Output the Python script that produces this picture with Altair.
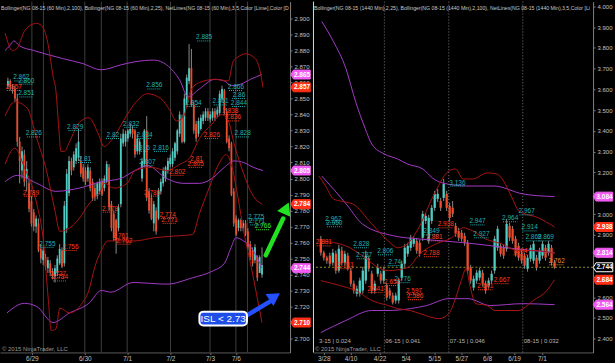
import altair as alt
import pandas as pd

FONT = "Liberation Sans"
UP = "#4ecdc4"
DOWN = "#ee4b2b"
WICK = "#8a8a8a"
BAND_RED = "#a81414"
BAND_PURPLE = "#a23ac6"
LBL_TEAL = "#20b2b2"
LBL_RED = "#ff3b1f"
LBL_GREEN = "#33ee33"
LBL_ORANGE = "#e08a20"
TAG_PINK = "#f25cf2"
TAG_RED = "#ff3016"
AXIS_TXT = "#c0c0c0"

# ---------------- LEFT PANEL : NG 08-15 (60 Min) ----------------
L_open = [2.858, 2.861, 2.857, 2.856, 2.850, 2.823, 2.805, 2.815, 2.800, 2.797,
          2.786, 2.779, 2.770, 2.772, 2.756, 2.749, 2.751, 2.744, 2.747, 2.742,
          2.739, 2.741, 2.747, 2.755, 2.747, 2.769, 2.791, 2.811, 2.807, 2.811,
          2.813, 2.811, 2.807, 2.805, 2.800, 2.805, 2.798, 2.794, 2.789, 2.792,
          2.798, 2.794, 2.798, 2.807, 2.784, 2.778, 2.774, 2.769, 2.784, 2.822,
          2.823, 2.825, 2.828, 2.831, 2.830, 2.817, 2.817, 2.800, 2.809, 2.830,
          2.792, 2.788, 2.772, 2.780, 2.775, 2.792, 2.797, 2.800, 2.805, 2.809,
          2.809, 2.813, 2.817, 2.828, 2.838, 2.823, 2.846, 2.861, 2.869, 2.846,
          2.834, 2.828, 2.831, 2.836, 2.838, 2.842, 2.837, 2.838, 2.842, 2.840,
          2.841, 2.850, 2.855, 2.842, 2.825, 2.822, 2.792, 2.775, 2.769, 2.774,
          2.769, 2.772, 2.767, 2.759, 2.755, 2.749, 2.751, 2.741, 2.740]
L_close = [2.861, 2.857, 2.856, 2.850, 2.823, 2.811, 2.817, 2.798, 2.806, 2.781,
           2.772, 2.770, 2.775, 2.755, 2.750, 2.755, 2.745, 2.749, 2.741, 2.739,
           2.744, 2.750, 2.756, 2.745, 2.783, 2.803, 2.811, 2.805, 2.815, 2.819,
           2.823, 2.803, 2.800, 2.798, 2.807, 2.794, 2.788, 2.788, 2.797, 2.798,
           2.790, 2.800, 2.809, 2.782, 2.769, 2.763, 2.761, 2.782, 2.825, 2.828,
           2.828, 2.830, 2.831, 2.828, 2.815, 2.825, 2.823, 2.811, 2.830, 2.788,
           2.780, 2.775, 2.784, 2.767, 2.792, 2.798, 2.805, 2.807, 2.811, 2.813,
           2.817, 2.822, 2.830, 2.840, 2.823, 2.850, 2.863, 2.869, 2.846, 2.830,
           2.825, 2.836, 2.838, 2.840, 2.842, 2.838, 2.840, 2.842, 2.838, 2.843,
           2.853, 2.856, 2.842, 2.823, 2.819, 2.790, 2.772, 2.765, 2.774, 2.769,
           2.772, 2.765, 2.757, 2.751, 2.747, 2.757, 2.738, 2.751, 2.746]
L_high = [2.863, 2.862, 2.859, 2.858, 2.853, 2.826, 2.820, 2.818, 2.811, 2.800,
          2.789, 2.781, 2.777, 2.775, 2.759, 2.757, 2.753, 2.751, 2.749, 2.744,
          2.746, 2.752, 2.759, 2.757, 2.786, 2.806, 2.814, 2.813, 2.817, 2.822,
          2.831, 2.814, 2.809, 2.807, 2.809, 2.807, 2.800, 2.797, 2.798, 2.800,
          2.800, 2.802, 2.811, 2.809, 2.786, 2.780, 2.775, 2.784, 2.828, 2.831,
          2.830, 2.831, 2.834, 2.833, 2.831, 2.828, 2.825, 2.813, 2.831, 2.839,
          2.794, 2.790, 2.786, 2.782, 2.794, 2.800, 2.807, 2.808, 2.813, 2.815,
          2.819, 2.823, 2.831, 2.842, 2.840, 2.853, 2.865, 2.884, 2.881, 2.848,
          2.836, 2.838, 2.840, 2.842, 2.844, 2.844, 2.842, 2.844, 2.844, 2.845,
          2.855, 2.858, 2.856, 2.844, 2.827, 2.823, 2.794, 2.777, 2.775, 2.775,
          2.774, 2.774, 2.769, 2.761, 2.757, 2.759, 2.752, 2.752, 2.757]
L_low = [2.856, 2.855, 2.853, 2.848, 2.820, 2.797, 2.800, 2.795, 2.792, 2.779,
         2.770, 2.767, 2.766, 2.754, 2.747, 2.746, 2.743, 2.741, 2.739, 2.737,
         2.735, 2.739, 2.746, 2.744, 2.745, 2.766, 2.789, 2.802, 2.805, 2.809,
         2.811, 2.801, 2.798, 2.796, 2.798, 2.792, 2.786, 2.786, 2.787, 2.790,
         2.789, 2.792, 2.797, 2.780, 2.767, 2.761, 2.753, 2.767, 2.782, 2.820,
         2.820, 2.823, 2.826, 2.825, 2.813, 2.815, 2.815, 2.798, 2.807, 2.786,
         2.778, 2.774, 2.767, 2.765, 2.774, 2.790, 2.795, 2.798, 2.803, 2.807,
         2.807, 2.811, 2.815, 2.826, 2.822, 2.822, 2.845, 2.859, 2.845, 2.828,
         2.823, 2.826, 2.830, 2.834, 2.836, 2.836, 2.835, 2.836, 2.836, 2.838,
         2.839, 2.848, 2.840, 2.822, 2.817, 2.789, 2.770, 2.764, 2.767, 2.767,
         2.767, 2.764, 2.755, 2.749, 2.745, 2.747, 2.736, 2.741, 2.738]

# Bollinger bands (bar index, price)
L_ru_i = [-1.2, 2.0, 3.7, 7.0, 9.8, 12.3, 15.1, 17.2, 19.2, 20.4, 21.7, 22.5, 24.1, 26.2, 30.3, 34.4,
          38.4, 40.9, 45.0, 50.7, 54.0, 59.3, 65.0, 69.1, 71.6, 74.4, 77.7, 81.4, 87.9, 93.7, 95.7,
          97.8, 101.0, 105.1, 107.2, 108.4]
L_ru_p = [2.891, 2.880, 2.881, 2.892, 2.896, 2.897, 2.894, 2.883, 2.864, 2.855, 2.830, 2.817, 2.817,
          2.823, 2.835, 2.838, 2.828, 2.820, 2.826, 2.840, 2.847, 2.853, 2.850, 2.842, 2.836, 2.838,
          2.855, 2.860, 2.862, 2.861, 2.873, 2.876, 2.878, 2.875, 2.867, 2.857]
L_rm_i = [-1.2, 2.9, 8.2, 12.3, 16.4, 20.0, 22.1, 26.2, 30.3, 34.4, 36.8, 39.7, 40.9, 45.0, 50.7,
          54.0, 60.9, 67.5, 73.2, 77.3, 81.4, 86.7, 90.8, 93.7, 96.1, 100.2, 104.3, 108.0]
L_rm_p = [2.839, 2.848, 2.844, 2.825, 2.805, 2.780, 2.767, 2.769, 2.775, 2.784, 2.788, 2.793, 2.797,
          2.794, 2.797, 2.805, 2.807, 2.805, 2.809, 2.813, 2.825, 2.834, 2.840, 2.836, 2.822, 2.803,
          2.789, 2.784]
L_rl_i = [-1.2, 2.9, 7.0, 12.3, 15.1, 17.2, 18.4, 20.4, 22.1, 26.2, 31.5, 34.4, 36.8, 39.7, 42.5,
          45.0, 54.0, 62.2, 70.3, 78.5, 81.4, 85.5, 89.6, 92.8, 94.9, 97.8, 100.2, 103.1, 105.9, 108.0]
L_rl_p = [2.809, 2.819, 2.807, 2.784, 2.761, 2.724, 2.705, 2.706, 2.719, 2.716, 2.722, 2.730, 2.744,
          2.755, 2.761, 2.761, 2.761, 2.763, 2.764, 2.765, 2.778, 2.794, 2.809, 2.815, 2.809, 2.788,
          2.767, 2.747, 2.726, 2.710]
L_pu_i = [-1.2, 0.8, 2.5, 4.9, 11.0, 23.3, 31.5, 39.7, 47.9, 54.0, 62.2, 67.5, 73.2, 76.5, 81.4,
          87.9, 92.0, 94.9, 99.0, 103.1, 108.0]
L_pu_p = [2.880, 2.883, 2.886, 2.883, 2.880, 2.875, 2.872, 2.868, 2.871, 2.873, 2.874, 2.871, 2.861,
          2.851, 2.856, 2.862, 2.861, 2.858, 2.859, 2.862, 2.865]
L_pm_i = [-1.2, 4.1, 12.3, 20.4, 30.3, 39.7, 47.9, 54.0, 59.3, 67.5, 74.4, 81.4, 86.7, 92.0, 96.1,
          100.2, 104.3, 108.4]
L_pm_p = [2.798, 2.802, 2.797, 2.792, 2.794, 2.798, 2.800, 2.805, 2.808, 2.800, 2.797, 2.797, 2.800,
          2.807, 2.811, 2.810, 2.807, 2.805]
L_pl_i = [-0.4, 7.0, 12.3, 19.2, 26.2, 34.4, 39.7, 43.8, 53.2, 67.5, 78.5, 86.7, 92.0, 94.9, 96.9,
          100.2, 104.3, 108.0]
L_pl_p = [2.716, 2.722, 2.720, 2.710, 2.716, 2.722, 2.730, 2.729, 2.735, 2.734, 2.738, 2.742, 2.747,
          2.757, 2.763, 2.761, 2.755, 2.744]

# NetLines labels
L_lab_t = ["2.862", "2.860", "2.851", "2.826", "2.829", "2.81", "2.832", "2.82", "2.834", "2.816",
           "2.816", "2.807", "2.856", "2.885", "2.854", "2.851", "2.866", "2.86", "2.844", "2.828",
           "2.755", "2.775", "2.771", "2.766",
           "2.857", "2.789", "2.756", "2.737", "2.734", "2.778", "2.761", "2.762", "2.789", "2.774",
           "2.771", "2.802", "2.81", "2.805", "2.826", "2.838", "2.836"]
L_lab_i = [5.7, 7.8, 7.8, 11.0, 28.6, 32.7, 52.4, 44.6, 58.1, 56.9,
           65.0, 59.3, 62.2, 83.4, 78.9, 90.4, 96.9, 98.2, 98.2, 99.8,
           16.8, 105.5, 105.9, 108.4,
           2.5, 9.8, 26.6, 21.3, 22.1, 43.4, 47.9, 49.5, 61.3, 67.9,
           68.7, 72.0, 80.2, 79.8, 86.7, 94.5, 95.7]
L_lab_p = [2.861, 2.859, 2.851, 2.826, 2.830, 2.810, 2.832, 2.825, 2.825, 2.817,
           2.817, 2.808, 2.856, 2.886, 2.845, 2.846, 2.855, 2.850, 2.845, 2.826,
           2.757, 2.774, 2.771, 2.768,
           2.855, 2.789, 2.755, 2.738, 2.736, 2.779, 2.762, 2.759, 2.789, 2.775,
           2.772, 2.802, 2.810, 2.807, 2.825, 2.840, 2.836]
L_lab_c = [LBL_TEAL] * 23 + [LBL_GREEN] + [LBL_RED] * 17

L_tag_p = [2.865, 2.857, 2.805, 2.784, 2.744, 2.710]
L_tag_fill = [TAG_PINK, TAG_RED, TAG_PINK, TAG_RED, TAG_PINK, TAG_RED]
L_tag_stroke = L_tag_fill

L_yticks = [round(2.70 + 0.01 * k, 3) for k in range(21)]
L_date_i = [10.2, 32.7, 50.7, 69.1, 85.9, 96.9]
L_date_t = ["6/29", "6/30", "7/1", "7/2", "7/3", "7/6"]
L_grid_i = [10.2, 15.1, 32.7, 39.7, 50.7, 69.1, 85.9, 96.9, 101.8]

L_header = ("Bollinger(NG 08-15 (60 Min),2,100), Bollinger(NG 08-15 (60 Min),2,25), "
            "NetLines(NG 08-15 (60 Min),3,5,Color [Lime],Color [D")

# ---------------- RIGHT PANEL : NG 08-15 (1440 Min) ----------------
R_open = [2.881, 2.814, 2.790, 2.800, 2.766, 2.809, 2.728, 2.824, 2.766, 2.800,
          2.728, 2.665, 2.617, 2.617, 2.632, 2.680, 2.785, 2.713, 2.632, 2.713,
          2.713, 2.680, 2.656, 2.632, 2.608, 2.584, 2.584, 2.694, 2.761, 2.809,
          2.838, 2.857, 2.871, 2.862, 2.886, 2.967, 2.871, 2.967, 3.030, 3.073,
          3.063, 3.078, 3.097, 3.039, 3.030, 2.943, 2.919, 2.910, 2.895, 2.862,
          2.742, 2.646, 2.680, 2.694, 2.718, 2.665, 2.656, 2.680, 2.728, 2.838,
          2.847, 2.838, 2.833, 2.943, 2.929, 2.881, 2.847, 2.809, 2.800, 2.737,
          2.785, 2.776, 2.790, 2.776, 2.800, 2.838, 2.814, 2.838, 2.766]
R_close = [2.814, 2.790, 2.776, 2.761, 2.814, 2.728, 2.833, 2.766, 2.809, 2.737,
           2.665, 2.632, 2.641, 2.680, 2.728, 2.800, 2.737, 2.632, 2.665, 2.742,
           2.680, 2.728, 2.598, 2.608, 2.574, 2.608, 2.680, 2.761, 2.838, 2.847,
           2.886, 2.881, 2.824, 2.809, 3.001, 2.991, 2.982, 3.030, 3.097, 3.097,
           3.030, 3.145, 3.030, 2.982, 3.001, 2.905, 2.886, 2.881, 2.862, 2.728,
           2.680, 2.689, 2.718, 2.728, 2.665, 2.632, 2.680, 2.713, 2.881, 2.929,
           2.809, 2.800, 2.953, 2.886, 2.871, 2.809, 2.790, 2.776, 2.752, 2.790,
           2.838, 2.857, 2.742, 2.824, 2.857, 2.790, 2.857, 2.766, 2.744]
R_high = [2.895, 2.824, 2.800, 2.814, 2.833, 2.824, 2.852, 2.843, 2.824, 2.814,
          2.742, 2.680, 2.656, 2.694, 2.747, 2.824, 2.800, 2.728, 2.680, 2.761,
          2.728, 2.747, 2.670, 2.646, 2.622, 2.622, 2.694, 2.776, 2.857, 2.862,
          2.900, 2.895, 2.886, 2.876, 3.015, 3.006, 2.996, 3.044, 3.111, 3.121,
          3.078, 3.169, 3.111, 3.054, 3.063, 2.958, 2.934, 2.924, 2.910, 2.876,
          2.756, 2.704, 2.732, 2.742, 2.732, 2.680, 2.694, 2.728, 2.895, 2.943,
          2.862, 2.852, 2.977, 2.958, 2.943, 2.895, 2.862, 2.824, 2.814, 2.804,
          2.852, 2.871, 2.804, 2.838, 2.871, 2.852, 2.871, 2.852, 2.780]
R_low = [2.800, 2.776, 2.761, 2.747, 2.752, 2.713, 2.718, 2.752, 2.752, 2.728,
         2.651, 2.617, 2.603, 2.603, 2.617, 2.665, 2.723, 2.617, 2.617, 2.699,
         2.665, 2.665, 2.584, 2.593, 2.565, 2.569, 2.569, 2.680, 2.747, 2.795,
         2.823, 2.843, 2.809, 2.795, 2.871, 2.953, 2.857, 2.953, 3.015, 3.058,
         3.015, 3.063, 3.015, 2.967, 2.986, 2.891, 2.871, 2.867, 2.847, 2.713,
         2.665, 2.632, 2.665, 2.680, 2.651, 2.617, 2.641, 2.665, 2.713, 2.823,
         2.795, 2.785, 2.819, 2.871, 2.857, 2.795, 2.776, 2.761, 2.737, 2.723,
         2.771, 2.761, 2.728, 2.761, 2.785, 2.776, 2.800, 2.752, 2.737]

R_pu_i = [0.32, 4.17, 8.35, 11.56, 14.77, 17.0, 21.19, 25.68, 28.9, 34.03, 37.24, 40.45, 49.12,
          57.78, 67.4, 78.0]
R_pu_p = [3.927, 3.831, 3.701, 3.543, 3.413, 3.337, 3.289, 3.265, 3.241, 3.217, 3.174, 3.150, 3.135,
          3.135, 3.097, 3.084]
R_pm_i = [0.32, 4.17, 8.99, 13.8, 24.4, 32.1, 40.45, 51.36, 61.96, 78.0]
R_pm_p = [3.183, 3.121, 3.039, 2.953, 2.895, 2.881, 2.871, 2.857, 2.838, 2.814]
R_pl_i = [0.0, 8.35, 17.0, 22.47, 29.86, 35.31, 42.7, 49.12, 56.5, 67.4, 78.0]
R_pl_p = [2.430, 2.488, 2.536, 2.536, 2.545, 2.560, 2.593, 2.593, 2.560, 2.569, 2.564]
R_ru_i = [-0.64, 1.6, 4.17, 6.42, 10.6, 17.0, 22.47, 25.68, 28.9, 32.1, 37.24, 42.7, 44.94, 47.51,
          50.72, 55.54, 58.75, 61.0, 63.56, 66.13, 72.55, 78.0]
R_ru_p = [3.183, 3.135, 3.073, 3.063, 3.049, 2.953, 2.871, 2.838, 2.857, 2.919, 3.078, 3.207, 3.217,
          3.169, 3.169, 3.198, 3.193, 3.159, 3.087, 3.015, 2.982, 2.938]
R_rm_i = [0.0, 8.35, 14.77, 19.26, 22.47, 28.9, 33.07, 38.52, 43.66, 47.51, 50.72, 54.9, 60.35, 65.8,
          71.6, 78.0]
R_rm_p = [2.871, 2.847, 2.790, 2.742, 2.728, 2.742, 2.809, 2.857, 2.886, 2.934, 2.919, 2.881, 2.857,
          2.824, 2.824, 2.811]
R_rl_i = [0.0, 6.42, 11.56, 17.0, 22.47, 25.68, 29.86, 33.07, 39.49, 42.7, 44.94, 46.87, 48.48,
          49.76, 51.69, 55.54, 58.1, 65.8, 70.9, 75.44, 78.0]
R_rl_p = [2.680, 2.656, 2.632, 2.584, 2.560, 2.545, 2.536, 2.521, 2.497, 2.521, 2.593, 2.680, 2.737,
          2.656, 2.569, 2.560, 2.536, 2.536, 2.584, 2.632, 2.684]

R_lab_t = ["2.962", "2.950", "2.828", "2.737", "2.806", "2.74", "2.776", "2.849", "3.136", "2.947",
           "2.927", "2.964", "2.967", "2.914", "2.869", "2.869",
           "2.881", "2.731", "2.641", "2.652", "2.597", "2.586", "2.938", "2.881", "2.788", "2.667",
           "2.641", "2.84", "2.762"]
R_lab_i = [4.2, 4.5, 13.5, 14.4, 21.5, 24.7, 27.3, 36.9, 45.6, 52.3,
           53.6, 63.2, 68.7, 69.7, 71.0, 75.1,
           1.0, 8.3, 18.3, 23.8, 31.1, 31.5, 41.7, 37.9, 36.9, 60.4,
           54.9, 66.8, 78.7]
R_lab_p = [2.958, 2.939, 2.838, 2.785, 2.804, 2.752, 2.670, 2.900, 3.135, 2.948,
           2.886, 2.963, 2.996, 2.919, 2.871, 2.871,
           2.847, 2.737, 2.622, 2.656, 2.612, 2.588, 2.934, 2.871, 2.795, 2.665,
           2.636, 2.804, 2.756]
R_lab_c = [LBL_TEAL] * 16 + [LBL_RED] * 12 + [LBL_ORANGE]

R_tag_p = [3.084, 2.938, 2.814, 2.744, 2.684, 2.564]
R_tag_fill = [TAG_PINK, TAG_RED, TAG_PINK, "#000000", TAG_RED, TAG_PINK]
R_tag_stroke = [TAG_PINK, TAG_RED, TAG_PINK, "#ffffff", TAG_RED, TAG_PINK]

R_yticks = [round(2.4 + 0.1 * k, 1) for k in range(17)]
R_date_i = [0.96, 9.95, 19.6, 28.3, 37.9, 46.9, 55.5, 64.5, 73.8]
R_date_t = ["3/28", "4/10", "4/22", "5/4", "5/15", "5/27", "6/8", "6/19", "7/1"]
R_roll_i = [21.2, 42.7, 67.4]
R_roll_text_i = [-0.96, 21.2, 42.7, 67.4]
R_roll_text = ["3-15 | 0.024", "06-15 | 0.041", "07-15 | 0.046", "08-15 | 0.032"]
R_last = [2.744]

R_header = ("Bollinger(NG 08-15 (1440 Min),2,25), Bollinger(NG 08-15 (1440 Min),2,100), "
            "NetLines(NG 08-15 (1440 Min),3,5,Color [Li")

COPYRIGHT = "\u00a9 2015 NinjaTrader, LLC"

TAG_SHAPE = "M-1,0L-0.72,-0.46L1,-0.46L1,0.46L-0.72,0.46Z"
BAND_COLOR = {"pu": BAND_PURPLE, "pm": BAND_PURPLE, "pl": BAND_PURPLE,
              "ru": BAND_RED, "rm": BAND_RED, "rl": BAND_RED}


def build_panel(o, h, l, c, bands, lab_t, lab_i, lab_p, lab_c, tag_p, tag_fill, tag_stroke,
                xdom, ydom, yvals, yfmt, xvals, xlabs, barw, half, tag_x, header):
    n = len(o)
    cdf = pd.DataFrame({"i": list(range(n)), "o": o, "h": h, "l": l, "c": c})
    xs = alt.Scale(domain=xdom, nice=False, zero=False)
    ys = alt.Scale(domain=ydom, nice=False, zero=False)
    expr = " : ".join(f"datum.value == {v} ? '{t}'" for v, t in zip(xvals, xlabs)) + " : ''"
    xaxis = alt.Axis(values=xvals, labelExpr=expr, labelColor=AXIS_TXT, labelFontSize=6.5,
                     labelFont=FONT, tickColor="#777777", tickSize=2, domainColor="#5a5a5a",
                     grid=False, labelPadding=1, title=None, labelFlush=False,
                     labelOverlap=False)
    yaxis = alt.Axis(orient="right", values=yvals, format=yfmt, labelColor=AXIS_TXT,
                     labelFontSize=6, labelFont=FONT, tickColor="#777777", tickSize=2,
                     domainColor="#808080", grid=False, labelPadding=2, title=None,
                     labelFlush=False, labelOverlap=False)

    def X(f):
        return alt.X(f, type="quantitative", scale=xs, axis=xaxis, title=None)

    def Y(f):
        return alt.Y(f, type="quantitative", scale=ys, axis=yaxis, title=None)

    rows = []
    for name, bi, bp in bands:
        for a, b in zip(bi, bp):
            rows.append({"band": name, "i": a, "p": b, "col": BAND_COLOR[name]})
    bdf = pd.DataFrame(rows)

    base = alt.Chart(cdf)
    wick = base.mark_rule(color=WICK, strokeWidth=1).encode(x=X("i"), y=Y("l"), y2="h")
    body = base.mark_bar(width=barw).transform_calculate(
        col=f"datum.c >= datum.o ? '{UP}' : '{DOWN}'"
    ).encode(x=X("i"), y=Y("o"), y2="c", color=alt.Color("col:N", scale=None))
    lines = alt.Chart(bdf).mark_line(interpolate="monotone", strokeWidth=1).encode(
        x=X("i"), y=Y("p"), color=alt.Color("col:N", scale=None), detail="band:N",
    )

    ldf = pd.DataFrame({"t": lab_t, "i": lab_i, "p": lab_p, "col": lab_c})
    lab_rule = alt.Chart(ldf).mark_rule(strokeDash=[1, 1], strokeWidth=1).transform_calculate(
        x1=f"datum.i - {half}", x2=f"datum.i + {half}"
    ).encode(x=X("x1"), x2="x2", y=Y("p"), color=alt.Color("col:N", scale=None))
    lab_text = alt.Chart(ldf).mark_text(fontSize=6.5, font=FONT, baseline="bottom", dy=-0.5).encode(
        x=X("i"), y=Y("p"), text="t:N", color=alt.Color("col:N", scale=None)
    )

    tdf = pd.DataFrame({"p": tag_p, "fill": tag_fill, "stroke": tag_stroke})
    tags = alt.Chart(tdf).mark_point(shape=TAG_SHAPE, size=380, filled=True, opacity=1,
                                     strokeWidth=1).encode(
        x=alt.value(tag_x), y=Y("p"),
        fill=alt.Fill("fill:N", scale=None), stroke=alt.Stroke("stroke:N", scale=None),
    )
    tag_text = alt.Chart(tdf).transform_calculate(t="format(datum.p, '.3f')").mark_text(
        fontSize=6.5, fontWeight="bold", font=FONT, color="white", baseline="middle"
    ).encode(x=alt.value(tag_x + 1.5), y=Y("p"), text="t:N")

    head = alt.Chart(pd.DataFrame({"t": [header]})).mark_text(
        align="left", baseline="middle", fontSize=5.2, font=FONT, color="#c8c8c8"
    ).encode(x=alt.value(1), y=alt.value(6), text="t:N")
    copy = alt.Chart(pd.DataFrame({"t": [COPYRIGHT]})).mark_text(
        align="left", baseline="middle", fontSize=6, font=FONT, color="#9a9a9a"
    ).encode(x=alt.value(2), y=alt.value(349), text="t:N")

    return dict(X=X, Y=Y, wick=wick, body=body, lines=lines, lab_rule=lab_rule,
                lab_text=lab_text, tags=tags, tag_text=tag_text, head=head, copy=copy)


# ---- left panel ----
L = build_panel(
    L_open, L_high, L_low, L_close,
    [("pu", L_pu_i, L_pu_p), ("pm", L_pm_i, L_pm_p), ("pl", L_pl_i, L_pl_p),
     ("ru", L_ru_i, L_ru_p), ("rm", L_rm_i, L_rm_p), ("rl", L_rl_i, L_rl_p)],
    L_lab_t, L_lab_i, L_lab_p, L_lab_c, L_tag_p, L_tag_fill, L_tag_stroke,
    [-1.23, 117.8], [2.6913, 2.9106], L_yticks, ".3f", L_date_i, L_date_t,
    1.8, 2.9, 301.5, L_header,
)
LX, LY = L["X"], L["Y"]

L_grid = alt.Chart(pd.DataFrame({"i": L_grid_i})).mark_rule(
    color="#3d3d3d", strokeWidth=1).encode(x=LX("i"))

# arrows + ISL box (annotation)
G_arrow = pd.DataFrame({"x1": [109.6], "y1": [2.752], "x2": [117.0], "y2": [2.775]})
G_head = pd.DataFrame({"i": [118.3], "p": [2.7815]})
B_arrow = pd.DataFrame({"x1": [101.0], "y1": [2.714], "x2": [111.8], "y2": [2.7235]})
B_head = pd.DataFrame({"i": [113.4], "p": [2.7262]})
ISL_box = pd.DataFrame({"x1": [81.4], "x2": [101.6], "y1": [2.7168], "y2": [2.7082]})
ISL_txt = pd.DataFrame({"i": [91.5], "p": [2.7125], "t": ["ISL < 2.73"]})

g_shaft = alt.Chart(G_arrow).mark_rule(color="#22e022", strokeWidth=4.5, strokeCap="round").encode(
    x=LX("x1"), x2="x2", y=LY("y1"), y2="y2")
g_tip = alt.Chart(G_head).mark_point(shape="triangle-up", size=210, filled=True, opacity=1,
                                     angle=23.5, color="#22e022").encode(x=LX("i"), y=LY("p"))
b_shaft = alt.Chart(B_arrow).mark_rule(color="#2450ff", strokeWidth=4.5, strokeCap="round").encode(
    x=LX("x1"), x2="x2", y=LY("y1"), y2="y2")
b_tip = alt.Chart(B_head).mark_point(shape="triangle-up", size=210, filled=True, opacity=1,
                                     angle=56.7, color="#2450ff").encode(x=LX("i"), y=LY("p"))
isl_rect = alt.Chart(ISL_box).mark_rect(fill="#1f4de8", stroke="white", strokeWidth=2,
                                        cornerRadius=4).encode(
    x=LX("x1"), x2="x2", y=LY("y1"), y2="y2")
isl_text = alt.Chart(ISL_txt).mark_text(fontSize=10, font=FONT, color="white",
                                        baseline="middle", align="center").encode(
    x=LX("i"), y=LY("p"), text="t:N")

left = alt.layer(
    L_grid, L["wick"], L["body"], L["lines"], L["lab_rule"], L["lab_text"],
    L["head"], L["copy"], g_shaft, g_tip, b_shaft, b_tip, isl_rect, isl_text,
    L["tags"], L["tag_text"],
).properties(width=291, height=352)

# ---- right panel ----
R = build_panel(
    R_open, R_high, R_low, R_close,
    [("pu", R_pu_i, R_pu_p), ("pm", R_pm_i, R_pm_p), ("pl", R_pl_i, R_pl_p),
     ("ru", R_ru_i, R_ru_p), ("rm", R_rm_i, R_rm_p), ("rl", R_rl_i, R_rl_p)],
    R_lab_t, R_lab_i, R_lab_p, R_lab_c, R_tag_p, R_tag_fill, R_tag_stroke,
    [-0.96, 89.2], [2.3342, 4.0225], R_yticks, ".3f", R_date_i, R_date_t,
    2.3, 2.4, 291, R_header,
)
RX, RY = R["X"], R["Y"]

r_roll = alt.Chart(pd.DataFrame({"i": R_roll_i})).mark_rule(
    color="#7a7a7a", strokeWidth=1, strokeDash=[1, 2]).encode(x=RX("i"))
r_roll_txt = alt.Chart(pd.DataFrame({"i": R_roll_text_i, "t": R_roll_text})).mark_text(
    align="left", baseline="middle", fontSize=6, font=FONT, color="#b4b4b4", dx=1
).encode(x=RX("i"), y=alt.value(341), text="t:N")
r_last = alt.Chart(pd.DataFrame({"p": R_last})).mark_rule(
    color="#8e8e2c", strokeWidth=1, strokeDash=[2, 2]).encode(y=RY("p"))
r_border = alt.Chart(pd.DataFrame({"a": [0]})).mark_rule(
    color="#d8d8d8", strokeWidth=1).encode(x=alt.value(0.5))

right = alt.layer(
    r_roll, r_last, R["wick"], R["body"], R["lines"], R["lab_rule"], R["lab_text"],
    R["head"], R["copy"], r_roll_txt, r_border, R["tags"], R["tag_text"],
).properties(width=281, height=352)

chart = alt.hconcat(left, right, spacing=23, bounds="flush").properties(
    padding=0, background="#000000"
).configure_view(strokeWidth=0)

chart.save("out.html", embed_options={"renderer": "svg", "actions": False})
